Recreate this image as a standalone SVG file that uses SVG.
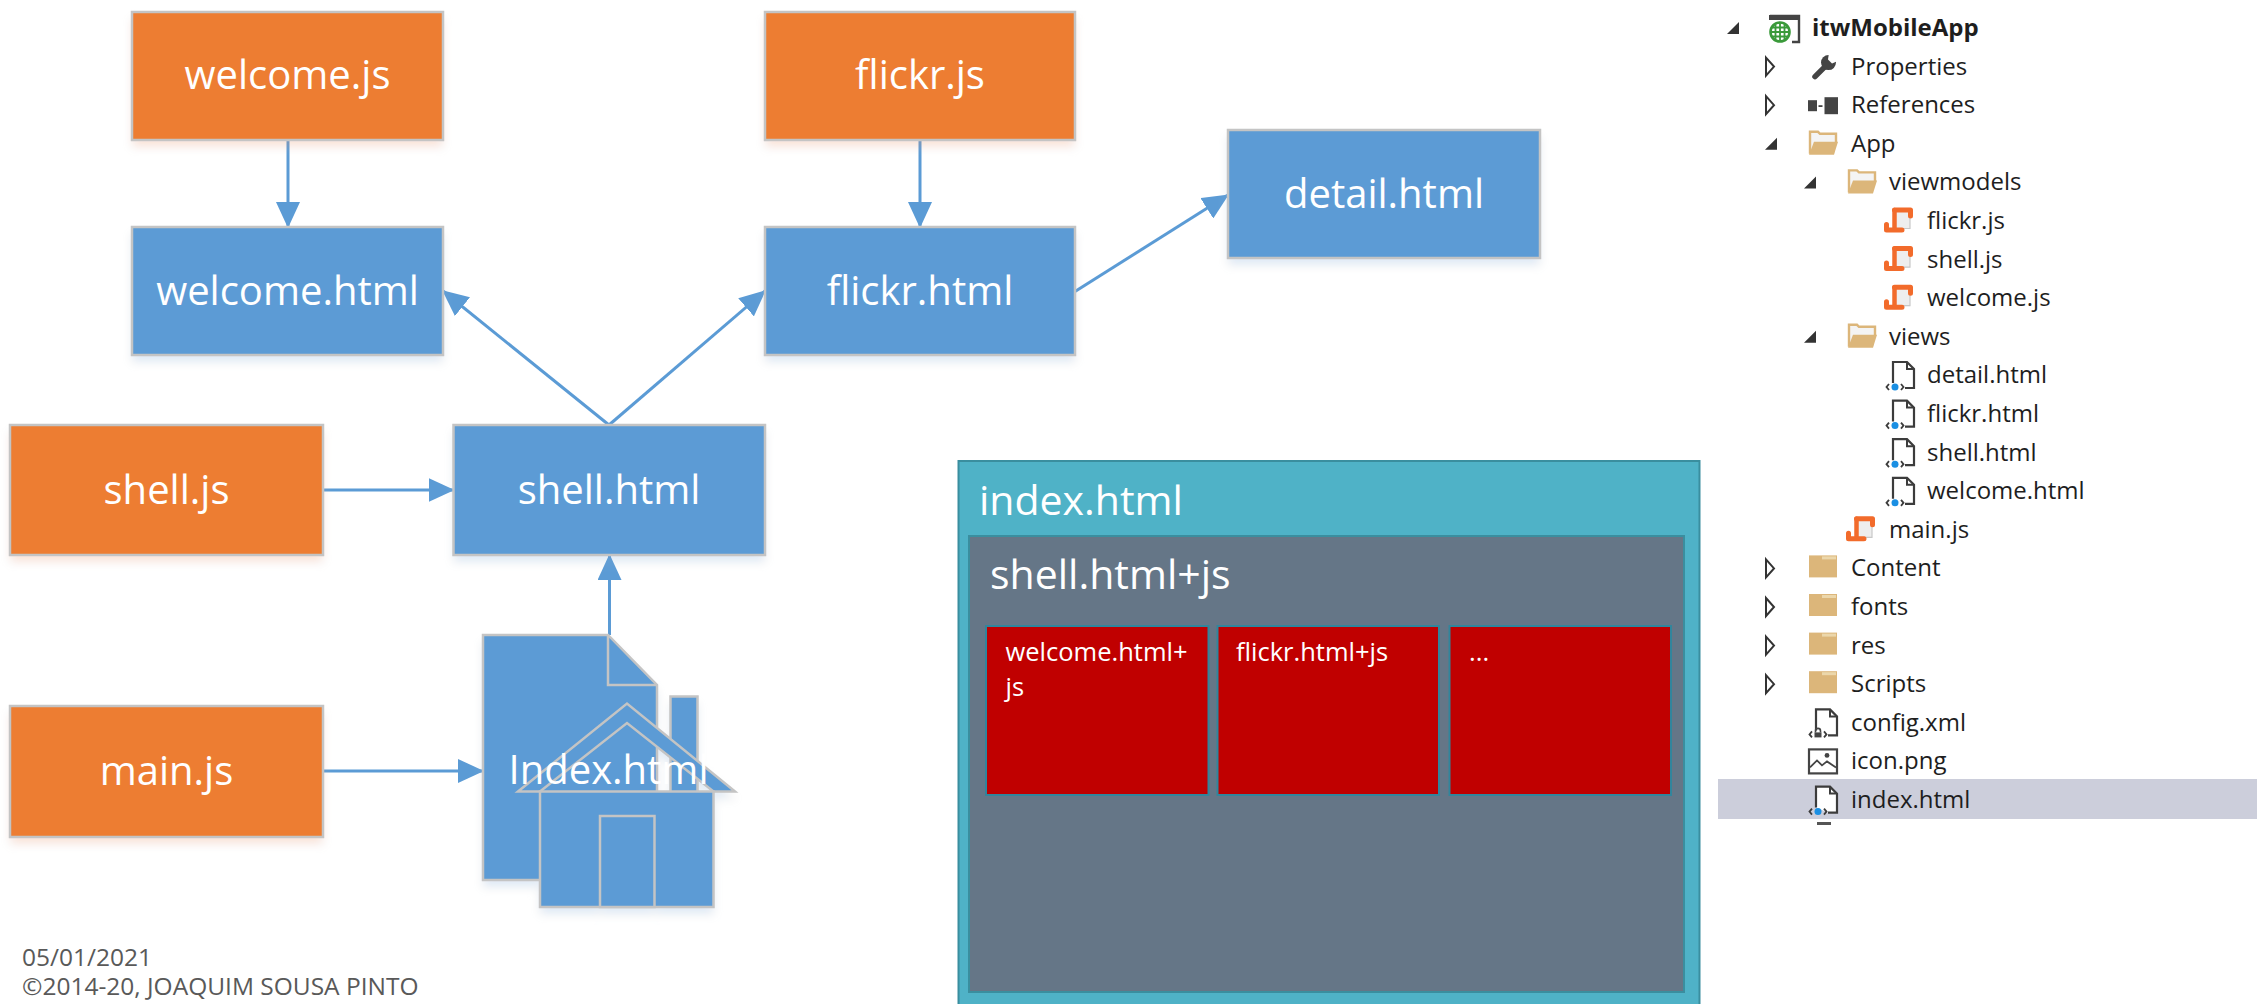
<svg xmlns="http://www.w3.org/2000/svg" xmlns:xlink="http://www.w3.org/1999/xlink" width="2257" height="1004" viewBox="0 0 2257 1004">
<style>
.lbl{font-family:"Open Sans","Noto Sans","DejaVu Sans",sans-serif;fill:#fff;text-anchor:middle;font-size:40px;}
.orange{fill:#ED7D31;stroke:#c4c4c4;stroke-width:2.5;}
.blue{fill:#5B9BD5;stroke:#c4c4c4;stroke-width:2.5;}
.conn{stroke:#5B9BD5;stroke-width:3;fill:none;}
.tree{font-family:"Open Sans","Noto Sans","DejaVu Sans",sans-serif;font-size:24px;fill:#1e1e1e;}
.exp{fill:#333;}
.col{fill:#fff;stroke:#333;stroke-width:2;}
.foot{font-family:"Open Sans","Noto Sans","DejaVu Sans",sans-serif;font-size:24.5px;fill:#595959;}
.small{font-family:"Open Sans","Noto Sans","DejaVu Sans",sans-serif;font-size:25.5px;fill:#fff;}
.big{font-family:"Open Sans","Noto Sans","DejaVu Sans",sans-serif;font-size:41px;fill:#fff;}
.jsS{fill:none;stroke:#F26B2B;stroke-linejoin:round;stroke-linecap:round;}
</style>
<defs>
<filter id="sh" x="-10%" y="-10%" width="120%" height="140%">
<feGaussianBlur in="SourceGraphic" stdDeviation="5" result="b"/>
<feOffset in="b" dy="7" result="o"/>
<feComponentTransfer in="o" result="s"><feFuncA type="linear" slope="0.22"/></feComponentTransfer>
<feMerge><feMergeNode in="s"/><feMergeNode in="SourceGraphic"/></feMerge>
</filter>
<marker id="arr" markerUnits="userSpaceOnUse" markerWidth="26" markerHeight="24" refX="25" refY="12" orient="auto" viewBox="0 0 26 24">
<path d="M0,0 L26,12 L0,24 Z" fill="#5B9BD5"/>
</marker>
<g id="ic-js">
<rect x="11" y="6" width="14" height="17" fill="#eeeeee"/>
<path d="M25,10 V22.5 H17" fill="none" stroke="#c8c8c8" stroke-width="1.2"/>
<path class="jsS" d="M9.5,4 H25.5 V10" stroke-width="5"/>
<path class="jsS" d="M9.5,4 V23" stroke-width="4.5"/>
<path class="jsS" d="M1.5,18.5 V24 H17" stroke-width="5"/>
</g>
<g id="ic-doc">
<path d="M8,22 V1 H22 L29,8 V27 H20" fill="#fff" stroke="#3c3c3c" stroke-width="2.2"/>
<path d="M22,1 V8 H29" fill="none" stroke="#3c3c3c" stroke-width="2"/>
</g>
<g id="ic-html">
<use xlink:href="#ic-doc"/>
<circle cx="10" cy="26" r="3.5" fill="#1A8FE3"/>
<path d="M4,23 L1.5,26 L4,29 M16,23 L18.5,26 L16,29" fill="none" stroke="#3c3c3c" stroke-width="1.8"/>
</g>
<g id="ic-cfg">
<use xlink:href="#ic-doc"/>
<path d="M7.5,24 V22.5 A2.5,2.5 0 0 1 12.5,22.5 V24" fill="none" stroke="#444" stroke-width="1.6"/>
<rect x="6.5" y="24" width="7" height="5" fill="#444"/>
<path d="M4,23 L1.5,26 L4,29 M16,23 L18.5,26 L16,29" fill="none" stroke="#3c3c3c" stroke-width="1.8"/>
</g>
<g id="ic-img">
<rect x="1" y="3" width="28" height="24" fill="#fff" stroke="#444" stroke-width="2.2"/>
<path d="M2,21 L9,14 L14,19 L19,15 L28,21" fill="none" stroke="#444" stroke-width="1.8"/>
<circle cx="19" cy="9" r="2.4" fill="#444"/>
</g>
<g id="ic-fopen">
<path d="M2,25 V3 H10 L12,5 H28 V14" fill="#f4f4f4" stroke="#dcb67a" stroke-width="2.4"/>
<path d="M1,26 L6,13 H30 L26,26 Z" fill="#dcb67a"/>
</g>
<g id="ic-fclosed">
<rect x="1" y="2" width="28" height="22" fill="#dcb67a"/>
<rect x="14" y="3" width="14" height="3" fill="#ecd7ab"/>
</g>
</defs>

<rect width="2257" height="1004" fill="#fff"/>

<g id="connectors">
<path class="conn" d="M288,140 V227" marker-end="url(#arr)"/>
<path class="conn" d="M920,140 V227" marker-end="url(#arr)"/>
<path class="conn" d="M609,425 L443,291" marker-end="url(#arr)"/>
<path class="conn" d="M609,425 L765,291" marker-end="url(#arr)"/>
<path class="conn" d="M1075,291.5 L1228,195" marker-end="url(#arr)"/>
<path class="conn" d="M323,490 H453.5" marker-end="url(#arr)"/>
<path class="conn" d="M323,771 H483" marker-end="url(#arr)"/>
<path class="conn" d="M609.5,635 V555" marker-end="url(#arr)"/>
</g>

<g id="welcome-js"><rect class="orange" x="132" y="12" width="311" height="128" filter="url(#sh)"/><text class="lbl" x="287.5" y="89">welcome.js</text></g>
<g id="flickr-js"><rect class="orange" x="765" y="12" width="310" height="128" filter="url(#sh)"/><text class="lbl" x="920" y="89">flickr.js</text></g>
<g id="welcome-html"><rect class="blue" x="132" y="227" width="311" height="128" filter="url(#sh)"/><text class="lbl" x="287.5" y="305">welcome.html</text></g>
<g id="flickr-html"><rect class="blue" x="765" y="227" width="310" height="128" filter="url(#sh)"/><text class="lbl" x="920" y="305">flickr.html</text></g>
<g id="detail-html"><rect class="blue" x="1228" y="130" width="312" height="128" filter="url(#sh)"/><text class="lbl" x="1384" y="208">detail.html</text></g>
<g id="shell-js"><rect class="orange" x="10" y="425" width="313" height="130" filter="url(#sh)"/><text class="lbl" x="166.5" y="504">shell.js</text></g>
<g id="shell-html"><rect class="blue" x="453.5" y="425" width="311.5" height="130" filter="url(#sh)"/><text class="lbl" x="609" y="504">shell.html</text></g>
<g id="main-js"><rect class="orange" x="10" y="706" width="313" height="131" filter="url(#sh)"/><text class="lbl" x="166.5" y="785">main.js</text></g>

<g id="index-icon">
<g filter="url(#sh)">
<path class="blue" d="M483,635 H608 L657,685 V880 H483 Z"/>
<path d="M608,635 V685 H657" fill="none" stroke="#c4c4c4" stroke-width="2.5"/>
<rect class="blue" x="670.5" y="696.5" width="27" height="100"/>
<path class="blue" d="M518,791.5 L627,703.5 L735,791.5 H713.5 L627,723 L540,791.5 Z"/>
<rect class="blue" x="540" y="791.5" width="173.5" height="115.5"/>
<rect class="blue" x="600" y="816" width="54.5" height="91"/>
</g>
<text class="lbl" x="608.5" y="784">Index.html</text>
</g>

<g id="index-layout">
<rect x="958.5" y="461" width="741" height="550" fill="#4FB2C7" stroke="#3A8E9F" stroke-width="2"/>
<text class="big" x="979" y="515">index.html</text>
<g id="shell-region">
<rect x="969" y="536" width="715" height="456" fill="#657687" stroke="#3A8E9F" stroke-width="2"/>
<text class="big" x="990" y="589">shell.html+js</text>
</g>
<g id="welcome-region"><rect x="986" y="626" width="222.5" height="169" fill="#C00000" stroke="#31859C" stroke-width="2"/><text class="small" x="1005.5" y="661">welcome.html+</text><text class="small" x="1005.5" y="696">js</text></g>
<g id="flickr-region"><rect x="1217.5" y="626" width="221.5" height="169" fill="#C00000" stroke="#31859C" stroke-width="2"/><text class="small" x="1236" y="661">flickr.html+js</text></g>
<g id="more-region"><rect x="1449.5" y="626" width="221.5" height="169" fill="#C00000" stroke="#31859C" stroke-width="2"/><text class="small" x="1469" y="661">...</text></g>
</g>

<g id="solution-tree">
<rect x="1718" y="779" width="539" height="40" fill="#CCCEDB"/>
<!-- row 0 -->
<polygon class="exp" points="1727,34 1739,34 1739,22"/>
<g transform="translate(1768,13)">
<path d="M2,3 H31 V29 H24" fill="none" stroke="#444" stroke-width="2.4"/>
<rect x="1" y="2" width="30" height="5" fill="#444"/>
<circle cx="12" cy="19" r="9.5" fill="#fff" stroke="#3A9A3A" stroke-width="2.6"/>
<path d="M2.5,19 H21.5 M12,9.5 V28.5 M4,14.5 H20 M4,23.5 H20 M7.5,11 V27 M16.5,11 V27" stroke="#3A9A3A" stroke-width="1.8" fill="none"/>
</g>
<text class="tree" x="1812" y="36" font-weight="bold">itwMobileApp</text>
<!-- row 1 Properties -->
<polygon class="col" points="1766,57.6 1774,66.6 1766,75.6"/>
<g transform="translate(1808,51.6)">
<path d="M7,25 L17,15" stroke="#444" stroke-width="5.5" stroke-linecap="round"/>
<circle cx="20.5" cy="11" r="7.5" fill="#444"/>
<polygon points="21,1 31,1 31,9 24,12 20,8" fill="#fff"/>
</g>
<text class="tree" x="1851" y="74.6">Properties</text>
<!-- row 2 References -->
<polygon class="col" points="1766,96.2 1774,105.2 1766,114.2"/>
<g transform="translate(1808,90.2)">
<rect x="0" y="10" width="9" height="11" fill="#444"/>
<rect x="10.5" y="15" width="4" height="1.8" fill="#444"/>
<rect x="16.5" y="7" width="13.5" height="17" fill="#444"/>
</g>
<text class="tree" x="1851" y="113.2">References</text>
<!-- row 3 App -->
<polygon class="exp" points="1765,149.8 1777,149.8 1777,137.8"/>
<use xlink:href="#ic-fopen" x="1808" y="128.8"/>
<text class="tree" x="1851" y="151.8">App</text>
<!-- row 4 viewmodels -->
<polygon class="exp" points="1804,188.4 1816,188.4 1816,176.4"/>
<use xlink:href="#ic-fopen" x="1847" y="167.4"/>
<text class="tree" x="1889" y="190.4">viewmodels</text>
<!-- rows 5-7 -->
<use xlink:href="#ic-js" x="1885" y="206"/>
<text class="tree" x="1927" y="229">flickr.js</text>
<use xlink:href="#ic-js" x="1885" y="244.6"/>
<text class="tree" x="1927" y="267.6">shell.js</text>
<use xlink:href="#ic-js" x="1885" y="283.2"/>
<text class="tree" x="1927" y="306.2">welcome.js</text>
<!-- row 8 views -->
<polygon class="exp" points="1804,342.8 1816,342.8 1816,330.8"/>
<use xlink:href="#ic-fopen" x="1847" y="321.8"/>
<text class="tree" x="1889" y="344.8">views</text>
<!-- rows 9-12 -->
<use xlink:href="#ic-html" x="1885" y="361"/>
<text class="tree" x="1927" y="383.4">detail.html</text>
<use xlink:href="#ic-html" x="1885" y="399.6"/>
<text class="tree" x="1927" y="422">flickr.html</text>
<use xlink:href="#ic-html" x="1885" y="438.2"/>
<text class="tree" x="1927" y="460.6">shell.html</text>
<use xlink:href="#ic-html" x="1885" y="476.8"/>
<text class="tree" x="1927" y="499.2">welcome.html</text>
<!-- row 13 main.js -->
<use xlink:href="#ic-js" x="1847" y="514.8"/>
<text class="tree" x="1889" y="537.8">main.js</text>
<!-- rows 14-17 folders -->
<polygon class="col" points="1766,559.4 1774,568.4 1766,577.4"/>
<use xlink:href="#ic-fclosed" x="1808" y="553.4"/>
<text class="tree" x="1851" y="576.4">Content</text>
<polygon class="col" points="1766,598 1774,607 1766,616"/>
<use xlink:href="#ic-fclosed" x="1808" y="592"/>
<text class="tree" x="1851" y="615">fonts</text>
<polygon class="col" points="1766,636.6 1774,645.6 1766,654.6"/>
<use xlink:href="#ic-fclosed" x="1808" y="630.6"/>
<text class="tree" x="1851" y="653.6">res</text>
<polygon class="col" points="1766,675.2 1774,684.2 1766,693.2"/>
<use xlink:href="#ic-fclosed" x="1808" y="669.2"/>
<text class="tree" x="1851" y="692.2">Scripts</text>
<!-- row 18-20 -->
<use xlink:href="#ic-cfg" x="1808" y="708.4"/>
<text class="tree" x="1851" y="730.8">config.xml</text>
<use xlink:href="#ic-img" x="1808" y="746.4"/>
<text class="tree" x="1851" y="769.4">icon.png</text>
<use xlink:href="#ic-html" x="1808" y="785.6"/>
<text class="tree" x="1851" y="808">index.html</text>
<rect x="1817" y="822" width="14" height="3" fill="#555"/>
</g>

<g id="footer">
<text class="foot" x="22" y="966">05/01/2021</text>
<text class="foot" x="22" y="995">©2014-20, JOAQUIM SOUSA PINTO</text>
</g>
</svg>
